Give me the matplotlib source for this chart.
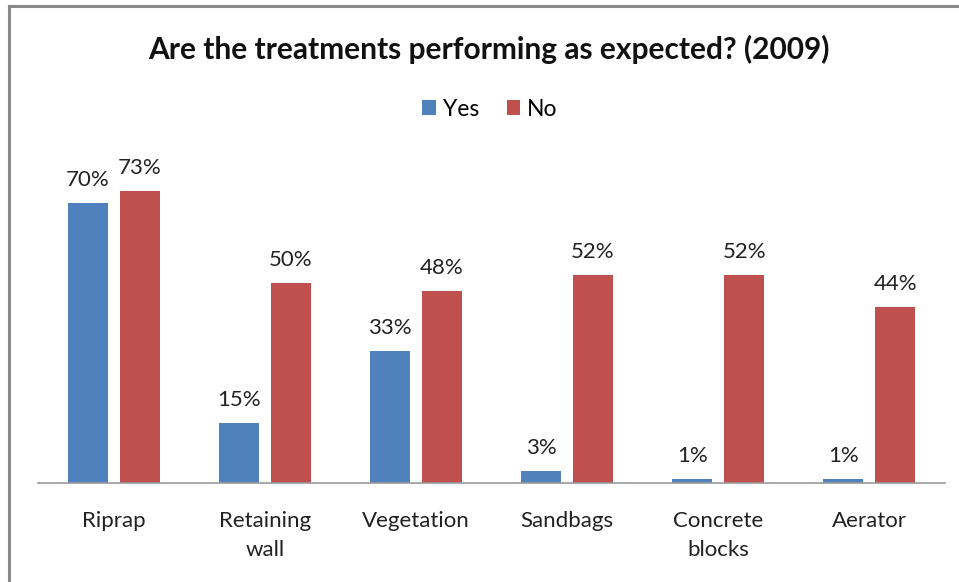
import matplotlib
matplotlib.use("Agg")
import matplotlib.pyplot as plt
from matplotlib.lines import Line2D
import numpy as np

categories = ["Riprap", "Retaining\nwall", "Vegetation", "Sandbags", "Concrete\nblocks", "Aerator"]
yes_vals = [70, 15, 33, 3, 1, 1]
no_vals = [73, 50, 48, 52, 52, 44]

BLUE = "#4F81BD"
RED = "#C0504D"
FONT = ["Lato", "DejaVu Sans"]

plt.rcParams["font.family"] = FONT

fig = plt.figure(figsize=(9.59, 5.82), dpi=100)
W, H = 959.0, 582.0

# axes box in pixel coords: x 38..945, baseline at y=483, 4 px per percent
left, right = 38, 945
base, top = 483, 163
ax = fig.add_axes([left / W, (H - base) / H, (right - left) / W, (base - top) / H])

x = np.arange(len(categories))
bw = 0.265
off = 0.172
b1 = ax.bar(x - off, yes_vals, bw, color=BLUE, label="Yes")
b2 = ax.bar(x + off, no_vals, bw, color=RED, label="No")

for bars, vals in ((b1, yes_vals), (b2, no_vals)):
    for b, v in zip(bars, vals):
        ax.text(b.get_x() + b.get_width() / 2, v + 3.3, "%d%%" % v,
                ha="center", va="bottom", fontsize=16, color="#222222")

ax.set_xlim(-0.5, len(categories) - 0.5)
ax.set_ylim(0, 80)
ax.set_yticks([])
ax.set_xticks(x)
ax.set_xticklabels(categories, fontsize=16, color="#222222", linespacing=1.6)
ax.tick_params(axis="x", length=0, pad=20)
for s in ("top", "right", "left"):
    ax.spines[s].set_visible(False)
ax.spines["bottom"].set_color("#9a9a9a")
ax.spines["bottom"].set_linewidth(1.2)

fig.text(489 / W, 1 - 49 / H, "Are the treatments performing as expected? (2009)",
         ha="center", va="center", fontsize=21.5, fontweight="bold", color="#111111")

fig.legend(handles=[b1, b2], labels=["Yes", "No"], loc="center",
           bbox_to_anchor=(490 / W, 1 - 109 / H), ncol=2, frameon=False,
           fontsize=16.5, handlelength=0.6, handleheight=0.6, handletextpad=0.3,
           columnspacing=1.2)

# outer border (cropped at right and bottom)
fig.add_artist(Line2D([9 / W, 9 / W], [0, 1 - 6 / H], transform=fig.transFigure,
                      color="#8a8a8a", lw=2.2))
fig.add_artist(Line2D([9 / W, 1], [1 - 6 / H, 1 - 6 / H], transform=fig.transFigure,
                      color="#8a8a8a", lw=2.2))

fig.savefig("out.png", dpi=100)
